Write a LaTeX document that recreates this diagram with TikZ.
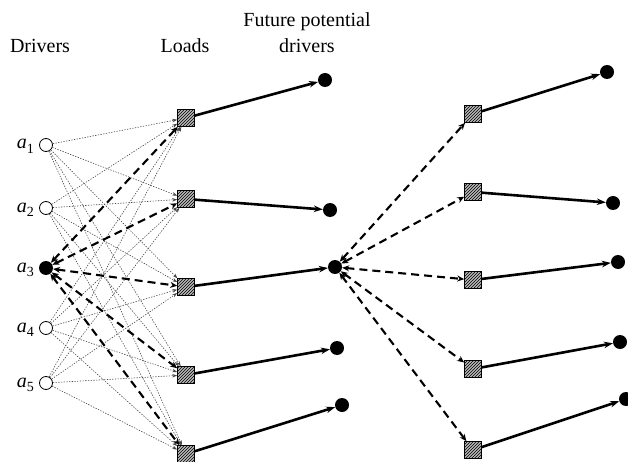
\documentclass[tikz,border=0pt]{standalone}
\usepackage{fontspec}
\setmainfont{Liberation Serif}
\usetikzlibrary{arrows.meta,patterns}
\begin{document}
\begin{tikzpicture}[x=1pt,y=-1pt,
 drv/.style={circle,draw,inner sep=0pt,minimum size=13pt,line width=0.8pt,fill=white},
 fdrv/.style={circle,fill=black,inner sep=0pt,minimum size=14pt},
 load/.style={rectangle,draw,line width=0.6pt,minimum size=17pt,inner sep=0pt,preaction={fill=gray!55},pattern=north east lines},
 dotl/.style={gray!55!black,dash pattern=on 1.3pt off 1.4pt,line width=0.6pt,-{Stealth[length=5pt,width=3.5pt]}},
 dsh/.style={line width=2.1pt,dash pattern=on 8pt off 5pt,{Stealth[length=7pt,width=6pt]}-{Stealth[length=7pt,width=6pt]}},
 sol/.style={line width=2.6pt,-{Stealth[length=9pt,width=6.5pt]}},
 lbl/.style={font=\fontsize{20}{22}\selectfont,inner sep=0pt}
]
\useasboundingbox (0,0) rectangle (628,462);
% headers
\node[lbl,anchor=base] (hD) at (40,53) {Drivers};
\node[lbl,anchor=base] (hL) at (185,53) {Loads};
\node[lbl,anchor=base] (hF1) at (307,27) {Future potential};
\node[lbl,anchor=base] (hF2) at (307,53) {drivers};
% drivers
\node[drv] (a1) at (46,145) {};
\node[drv] (a2) at (46,208) {};
\node[fdrv] (a3) at (46,268) {};
\node[drv] (a4) at (46,328) {};
\node[drv] (a5) at (46,383) {};
\foreach \i/\y in {1/145,2/208,3/268,4/328,5/383}{
  \node[lbl,anchor=base east] (la\i) at (34,\y+4) {\textit{a}\raisebox{-0.45ex}{\fontsize{14}{14}\selectfont\i}};
}
% left loads
\node[load] (L1) at (186,118) {};
\node[load] (L2) at (186,199) {};
\node[load] (L3) at (186,287) {};
\node[load] (L4) at (186,375) {};
\node[load] (L5) at (186,454) {};
% future drivers
\node[fdrv] (F1) at (325,80) {};
\node[fdrv] (F2) at (330,210) {};
\node[fdrv] (F3) at (335,267) {};
\node[fdrv] (F4) at (337,348) {};
\node[fdrv] (F5) at (342,405) {};
% right loads
\node[load] (R1) at (473,114) {};
\node[load] (R2) at (473,192) {};
\node[load] (R3) at (473,280) {};
\node[load] (R4) at (473,369) {};
\node[load] (R5) at (473,450) {};
% right drivers
\node[fdrv] (G1) at (607,72) {};
\node[fdrv] (G2) at (613,203) {};
\node[fdrv] (G3) at (618,262) {};
\node[fdrv] (G4) at (620,342) {};
\node[fdrv] (G5) at (626,399) {};
% dotted
\foreach \a in {a1,a2,a4,a5}{
  \foreach \l in {L1,L2,L3,L4,L5}{
    \draw[dotl] (\a) -- (\l);
  }
}
% dashed
\foreach \l in {L1,L2,L3,L4,L5}{\draw[dsh] (a3) -- (\l);}
\foreach \r in {R1,R2,R3,R4,R5}{\draw[dsh] (F3) -- (\r);}
% solid
\foreach \i in {1,...,5}{
  \draw[sol] (L\i) -- (F\i);
  \draw[sol] (R\i) -- (G\i);
}
\end{tikzpicture}
\end{document}
